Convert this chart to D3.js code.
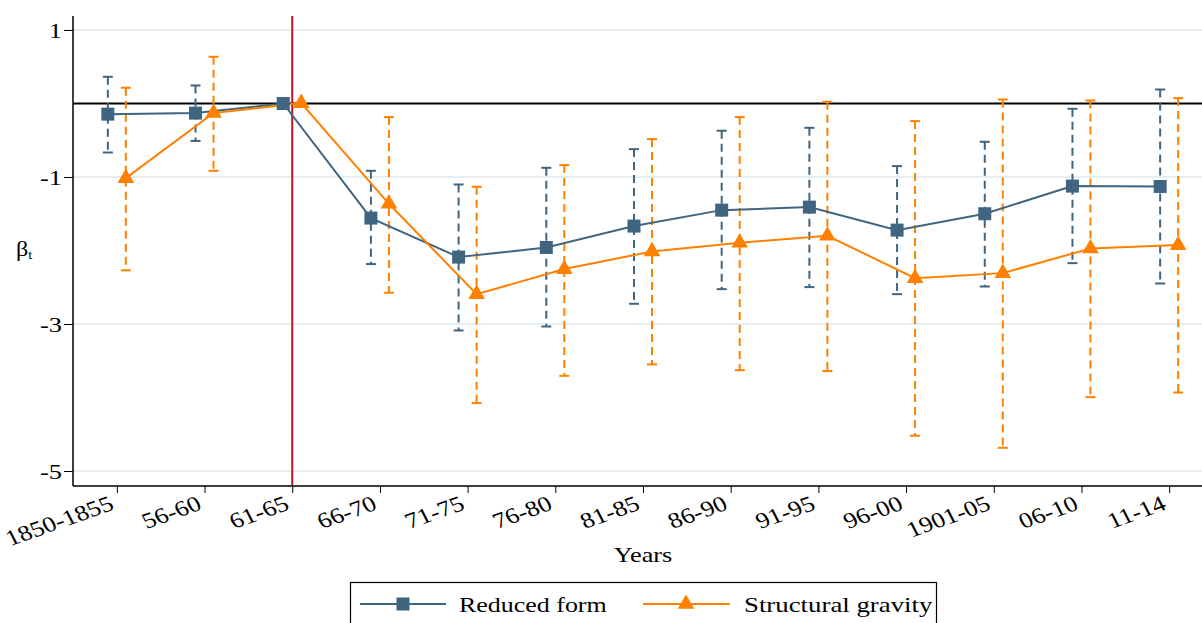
<!DOCTYPE html>
<html><head><meta charset="utf-8">
<script src="https://cdn.jsdelivr.net/npm/d3@7"></script>
<style>
body{margin:0;background:#fff;}
svg{display:block;font-family:"Liberation Serif","Times New Roman",serif;}
</style></head>
<body><svg id="c" width="1202" height="623"></svg>
<script>
const categories = ["1850-1855","56-60","61-65","66-70","71-75","76-80","81-85","86-90","91-95","96-00","1901-05","06-10","11-14"];
const reducedVals = [-0.145,-0.131,0,-1.559,-2.09,-1.959,-1.668,-1.451,-1.41,-1.723,-1.50,-1.124,-1.129];
const reducedLo   = [-0.667,-0.51,null,-2.185,-3.088,-3.034,-2.725,-2.526,-2.498,-2.594,-2.49,-2.172,-2.449];
const reducedHi   = [0.363,0.245,null,-0.916,-1.102,-0.875,-0.621,-0.371,-0.331,-0.852,-0.521,-0.072,0.19];
const structVals  = [-1.015,-0.13,0.005,-1.365,-2.594,-2.253,-2.013,-1.895,-1.80,-2.376,-2.308,-1.973,-1.927];
const structLo    = [-2.27,-0.916,null,-2.575,-4.076,-3.705,-3.55,-3.628,-3.64,-4.52,-4.684,-3.995,-3.932];
const structHi    = [0.214,0.635,null,-0.185,-1.133,-0.838,-0.485,-0.185,0.023,-0.24,0.054,0.041,0.073];
const yTicks = [1,-1,-3,-5];
const seriesNames = ["Reduced form","Structural gravity"];
const refCategory = "61-65";

const navy = "#3f6580", orange = "#ff8000";
const SX = 1.2; // horizontal stretch of the original text
const svg = d3.select("#c");
const x = d3.scalePoint().domain(categories).range([73,1213]).padding(0.5);
const y = d3.scaleLinear().domain([-5.204,1.19]).range([486,16]);
const off = 9;

// gridlines
svg.append("g").selectAll("line").data(yTicks).join("line")
  .attr("x1",73).attr("x2",1213).attr("y1",d=>y(d)).attr("y2",d=>y(d))
  .attr("stroke","#e6eef2").attr("stroke-width",2);

// zero line
svg.append("line").attr("x1",73).attr("x2",1213).attr("y1",y(0)).attr("y2",y(0))
  .attr("stroke","#000").attr("stroke-width",2);

// reference red line
svg.append("line").attr("x1",x(refCategory)).attr("x2",x(refCategory)).attr("y1",16).attr("y2",486)
  .attr("stroke","#c8102e").attr("stroke-width",2);

// axes
const yAxis = svg.append("g").attr("transform","translate(73,0)")
  .call(d3.axisLeft(y).tickValues(yTicks).tickSize(9).tickPadding(2).tickFormat(d=>String(d)));
yAxis.select(".domain").attr("stroke","#000").attr("stroke-width",1.5).attr("d","M0,486V16");
yAxis.selectAll(".tick line").attr("stroke","#000");
yAxis.selectAll("text").attr("font-size",22).attr("font-family","Liberation Serif").attr("fill","#000")
  .attr("x",null).attr("transform",`translate(-11,0) scale(${SX},1)`);

const xAxis = svg.append("g").attr("transform","translate(0,486)")
  .call(d3.axisBottom(x).tickSize(7).tickPadding(2));
xAxis.select(".domain").attr("stroke","#000").attr("stroke-width",1.5).attr("d","M73,0H1213");
xAxis.selectAll(".tick line").attr("stroke","#000");
xAxis.selectAll("text").attr("font-size",22).attr("font-family","Liberation Serif").attr("fill","#000")
  .attr("text-anchor","end").attr("dy",null).attr("y",null)
  .attr("transform",`translate(-2,23) scale(${SX},1) rotate(-23)`);

// error bars
function errbars(vals, lo, hi, color, dx){
  const g = svg.append("g");
  categories.forEach((c,i)=>{
    if(lo[i]==null) return;
    const cx = x(c)+dx;
    g.append("line").attr("x1",cx).attr("x2",cx).attr("y1",y(hi[i])).attr("y2",y(lo[i]))
      .attr("stroke",color).attr("stroke-width",2).attr("stroke-dasharray","8,5");
    [hi[i],lo[i]].forEach(v=>g.append("line").attr("x1",cx-5).attr("x2",cx+5).attr("y1",y(v)).attr("y2",y(v))
      .attr("stroke",color).attr("stroke-width",2));
  });
}
errbars(reducedVals,reducedLo,reducedHi,navy,-off);
errbars(structVals,structLo,structHi,orange,off);

// lines
const line = dx => d3.line().x((d,i)=>x(categories[i])+dx).y(d=>y(d));
svg.append("path").attr("d",line(-off)(reducedVals)).attr("fill","none").attr("stroke",navy).attr("stroke-width",2);
svg.append("path").attr("d",line(off)(structVals)).attr("fill","none").attr("stroke",orange).attr("stroke-width",2);

// markers
const sq = d3.symbol().type(d3.symbolSquare).size(169);
const tri = d3.symbol().type(d3.symbolTriangle).size(120);
svg.append("g").selectAll("path").data(reducedVals).join("path")
  .attr("d",sq).attr("fill",navy)
  .attr("transform",(d,i)=>`translate(${x(categories[i])-off},${y(d)})`);
svg.append("g").selectAll("path").data(structVals).join("path")
  .attr("d",tri).attr("fill",orange)
  .attr("transform",(d,i)=>`translate(${x(categories[i])+off},${y(d)})`);

// axis titles
svg.append("text").attr("text-anchor","middle").attr("font-size",21)
  .attr("transform",`translate(643,562) scale(1.25,1)`).text("Years");
const yt = svg.append("text").attr("transform",`translate(16,256) scale(1.1,1)`).attr("font-size",22);
yt.append("tspan").text("β");
yt.append("tspan").attr("font-size",13).attr("dy",3).text("t");

// legend
const lg = svg.append("g");
lg.append("rect").attr("x",350.5).attr("y",582.5).attr("width",586).attr("height",60)
  .attr("fill","#fff").attr("stroke","#000").attr("stroke-width",1.2);
const ly = 604;
lg.append("line").attr("x1",360).attr("x2",446).attr("y1",ly).attr("y2",ly).attr("stroke",navy).attr("stroke-width",2);
lg.append("path").attr("d",sq).attr("fill",navy).attr("transform",`translate(403,${ly})`);
lg.append("text").attr("font-size",22).attr("transform",`translate(459,${ly+8}) scale(1.18,1)`).text(seriesNames[0]);
lg.append("line").attr("x1",643).attr("x2",730).attr("y1",ly).attr("y2",ly).attr("stroke",orange).attr("stroke-width",2);
lg.append("path").attr("d",tri).attr("fill",orange).attr("transform",`translate(686,${ly})`);
lg.append("text").attr("font-size",22).attr("transform",`translate(744,${ly+8}) scale(1.22,1)`).text(seriesNames[1]);
</script></body></html>
